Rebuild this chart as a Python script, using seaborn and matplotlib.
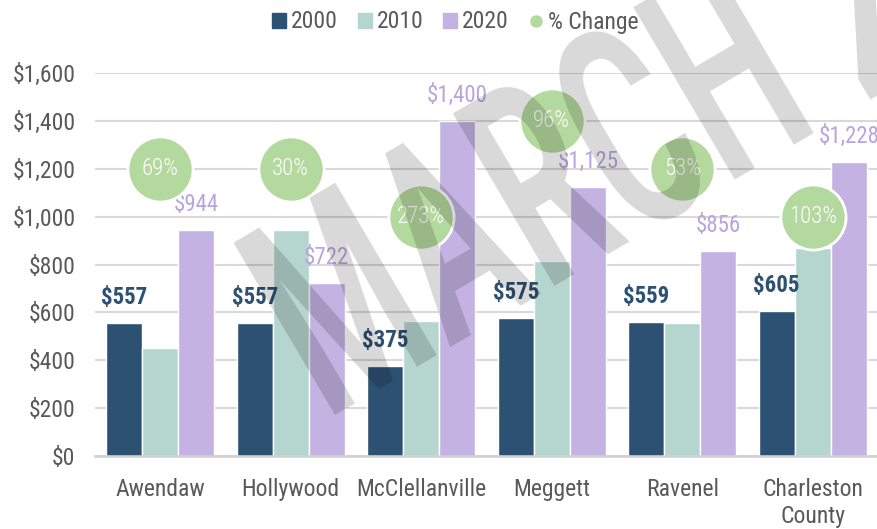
import pandas as pd
import numpy as np
import matplotlib.pyplot as plt
from matplotlib import font_manager as fm
from matplotlib.patches import Patch, PathPatch
from matplotlib.lines import Line2D
from matplotlib.textpath import TextPath
from matplotlib.transforms import Affine2D
import seaborn as sns

# median gross rent by place
places = ['Awendaw', 'Hollywood', 'McClellanville', 'Meggett', 'Ravenel', 'Charleston\nCounty']
years = ['2000', '2010', '2020']
rent_2000 = [557, 557, 375, 575, 559, 605]
rent_2010 = [452, 944, 564, 815, 557, 868]
rent_2020 = [944, 722, 1400, 1125, 856, 1228]
pct_change = [69, 30, 273, 96, 53, 103]
# height (in $) at which each % bubble sits on the chart
bubble_level = [1200, 1200, 1000, 1400, 1200, 1000]

colors = ['#2d5172', '#b5d5cf', '#c4b2e2']
green = '#b4d99e'
grey = '#595959'

# look for a narrow sans face, the original uses one
names = {f.name for f in fm.fontManager.ttflist}
fam, stretch = 'Roboto', 'normal'
for p in ['Roboto Condensed', 'Liberation Sans Narrow', 'Open Sans Condensed', 'Noto Sans Condensed']:
    if p in names:
        fam = p
        break
else:
    for base in ['Roboto', 'Open Sans', 'Noto Sans', 'DejaVu Sans']:
        if any(f.name == base and 'condensed' in str(f.stretch) for f in fm.fontManager.ttflist):
            fam, stretch = base, 'condensed'
            break

sns.set_style('white')
plt.rcParams['font.family'] = [fam, 'DejaVu Sans']
plt.rcParams['font.stretch'] = stretch

df = pd.DataFrame({
    'place': places * 3,
    'year': [y for y in years for _ in places],
    'rent': rent_2000 + rent_2010 + rent_2020,
})

fig, ax = plt.subplots(figsize=(8.78, 5.29), dpi=100)
fig.subplots_adjust(left=95/878, right=1.0, top=1-73/529, bottom=1-456/529)

sns.barplot(data=df, x='place', y='rent', hue='year', palette=colors,
            width=0.83, saturation=1, ax=ax, legend=False, zorder=2)

# value labels on 2000 and 2020 bars
ax.bar_label(ax.containers[0], labels=[f'${v:,}' for v in rent_2000],
             padding=10, fontsize=16.5, color='#2d5172', fontweight='bold')
ax.bar_label(ax.containers[2], labels=[f'${v:,}' for v in rent_2020],
             padding=10, fontsize=16.5, color='#b9a5dd')

# % change bubbles
sns.scatterplot(x=np.arange(len(places)), y=bubble_level, s=2200, color=green,
                edgecolor='white', linewidth=2, zorder=4, ax=ax, legend=False)
for i, p in enumerate(pct_change):
    ax.text(i, bubble_level[i], f'{p}%', ha='center', va='center',
            fontsize=16.5, color='white', fontweight='light', zorder=5)

ax.set_xlim(-0.5, len(places) - 0.5)
ax.set_ylim(0, 1600)
ax.set_yticks(range(0, 1601, 200))
ax.set_yticklabels([f'${v:,}' for v in range(0, 1601, 200)])
ax.set_xlabel('')
ax.set_ylabel('')
ax.grid(axis='y', color='#d9d9d9', lw=1.5, zorder=0)
ax.set_axisbelow(True)
for s in ['top', 'right', 'left']:
    ax.spines[s].set_visible(False)
ax.spines['bottom'].set_color('#d0d0d0')
ax.spines['bottom'].set_linewidth(1.8)
ax.tick_params(axis='y', length=0, pad=14, labelsize=17, labelcolor=grey)
ax.tick_params(axis='x', length=0, pad=16, labelsize=17, labelcolor=grey)

handles = [Patch(color=c, label=y) for c, y in zip(colors, years)]
handles.append(Line2D([], [], marker='o', ls='', color=green, markersize=8, label='% Change'))
fig.legend(handles=handles, loc='center', bbox_to_anchor=(455/878, 1-22/529), ncol=4,
           frameon=False, fontsize=17, handlelength=0.6, handleheight=0.6,
           handletextpad=0.2, columnspacing=0.85, labelcolor=grey)

# draft watermark, stretched to the narrow shape of the original
wm = 'MARCH 2020'
fp = fm.FontProperties(family=[fam, 'DejaVu Sans'], stretch=stretch, weight='medium')
path = TextPath((0, 0), wm, size=100, prop=fp)
m0 = TextPath((0, 0), 'M', size=100, prop=fp).get_extents().x0
h_w = TextPath((0, 0), 'H', size=100, prop=fp).get_extents()
h0 = TextPath((0, 0), 'MARCH', size=100, prop=fp).get_extents().x1 - h_w.width
sx = 464 / (h0 - m0)
sy = 200 / h_w.height
tr = Affine2D().translate(-m0, 0).scale(sx, sy).rotate_deg(30.5).translate(335, 529 - 415)
fig.add_artist(PathPatch(path, transform=tr, facecolor='black', edgecolor='none',
                         alpha=0.15, zorder=10))

fig.savefig('out.png', dpi=100)
